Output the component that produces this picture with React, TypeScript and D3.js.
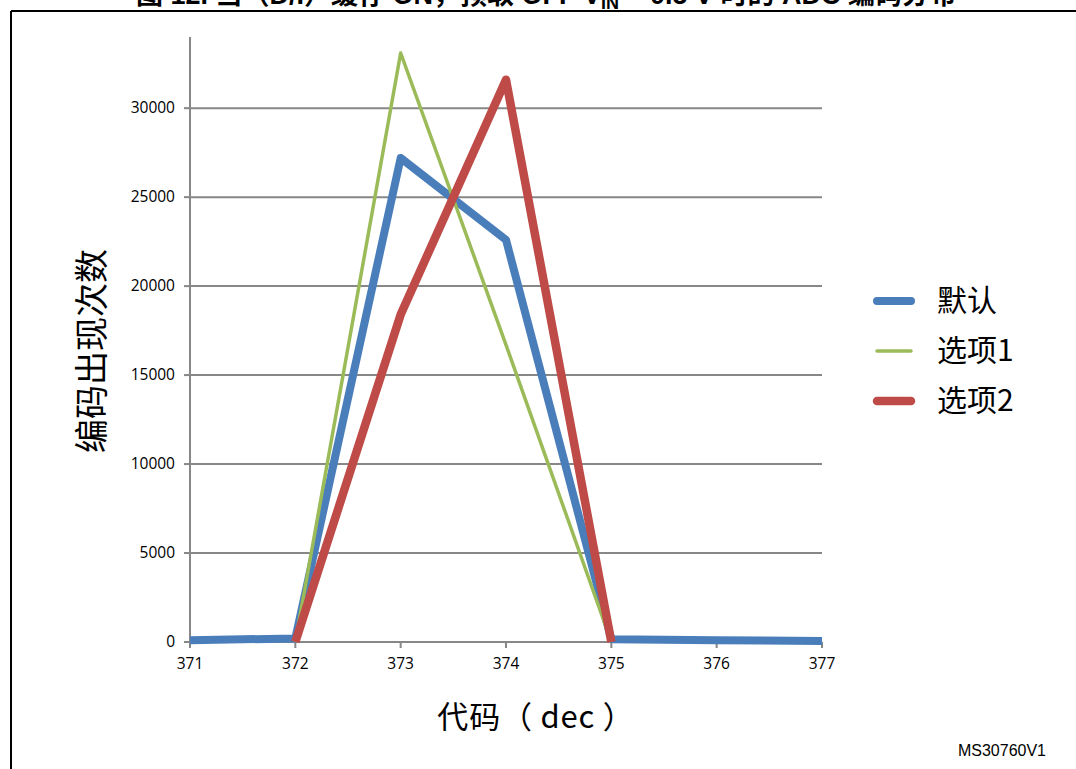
import React from "react";
import * as d3 from "d3";

const codes = [371, 372, 373, 374, 375, 376, 377];
const seriesNames = ["默认", "选项1", "选项2"];
const defaultValues: [number, number][] = [
  [371, 100], [372, 200], [373, 27200], [374, 22600], [375, 150], [376, 100], [377, 50],
];
const option1Values: [number, number][] = [
  [372, 0], [373, 33100], [374, 16700], [375, 0],
];
const option2Values: [number, number][] = [
  [372, 0], [373, 18400], [374, 31600], [375, 0],
];
const yTicks = [0, 5000, 10000, 15000, 20000, 25000, 30000];
const colors = ["#4a7ebb", "#9bbb59", "#be4b48"];
const widths = [8, 3.5, 8.5];

export default function App() {
  const W = 1076, H = 769;
  const x = d3.scaleLinear().domain([371, 377]).range([190, 822]);
  const y = d3.scaleLinear().domain([0, 34000]).range([642, 37]);
  const line = d3.line<[number, number]>().x(d => x(d[0])).y(d => y(d[1]));
  const series = [defaultValues, option1Values, option2Values];
  const grid = "#878787";
  const tickFont = "'Open Sans', sans-serif";
  const cjk = "'Noto Sans CJK SC', 'Noto Sans', sans-serif";
  return (
    <svg width={W} height={H} style={{ position: "absolute", left: 0, top: 0, background: "#fff" }}>
      {/* title (clipped at the top, as in the source page) */}
      <text x={546} y={4} textAnchor="middle" fontFamily="'Liberation Sans', 'Noto Sans CJK SC', sans-serif" fontWeight="bold" fontSize={27} fill="#000">
        图 12. 当（D/I）缓存 ON，预取 OFF V<tspan fontSize={18} dy={5}>IN</tspan><tspan dy={-5}> = 0.5 V 时的 ADC 编码分布</tspan>
      </text>
      {/* frame */}
      <line x1={11} y1={11} x2={W} y2={11} stroke="#000" strokeWidth={2} />
      <line x1={11} y1={11} x2={11} y2={H} stroke="#000" strokeWidth={2} />
      {/* gridlines */}
      {yTicks.map(t => (
        <g key={t}>
          <line x1={x(371)} x2={x(377)} y1={y(t)} y2={y(t)} stroke={grid} strokeWidth={2} />
          <line x1={184} x2={190} y1={y(t)} y2={y(t)} stroke={grid} strokeWidth={2} />
          <text x={175} y={y(t) + 5} textAnchor="end" fontFamily={tickFont} fontSize={15.5} fill="#000">{t}</text>
        </g>
      ))}
      <line x1={190} x2={190} y1={37} y2={643} stroke={grid} strokeWidth={2} />
      {codes.map(c => (
        <g key={c}>
          <line x1={x(c)} x2={x(c)} y1={642} y2={648} stroke={grid} strokeWidth={2} />
          <text x={x(c)} y={669} textAnchor="middle" fontFamily={tickFont} fontSize={15.5} fill="#000">{c}</text>
        </g>
      ))}
      {/* series */}
      {series.map((s, i) => (
        <path key={i} d={line(s) || ""} fill="none" stroke={colors[i]} strokeWidth={widths[i]} strokeLinejoin="round" strokeLinecap="butt" />
      ))}
      {/* axis titles */}
      <text transform="translate(104,351) rotate(-90)" textAnchor="middle" fontFamily={cjk} fontSize={34} fill="#000">编码出现次数</text>
      <text x={536} y={728} textAnchor="middle" fontFamily={cjk} fontSize={31} letterSpacing={0.8} fill="#000">代码（ dec ）</text>
      {/* legend */}
      {seriesNames.map((n, i) => (
        <g key={n}>
          <line x1={877} x2={911} y1={301 + i * 50} y2={301 + i * 50} stroke={colors[i]} strokeWidth={widths[i]} strokeLinecap="round" />
          <text x={937} y={311 + i * 50} fontFamily={cjk} fontSize={30} fill="#000">{n}</text>
        </g>
      ))}
      <text x={1046} y={756} textAnchor="end" fontFamily="'Liberation Sans', Arial, sans-serif" fontSize={16} fill="#000">MS30760V1</text>
    </svg>
  );
}
